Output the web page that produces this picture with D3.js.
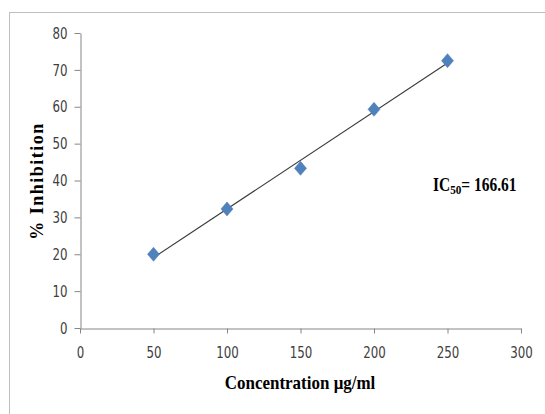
<!DOCTYPE html>
<html>
<head>
<meta charset="utf-8">
<script src="https://cdn.jsdelivr.net/npm/d3@7"></script>
<style>
  html, body { margin: 0; padding: 0; background: #fff; }
  svg { display: block; }
</style>
</head>
<body>
<svg id="chart" width="545" height="414"></svg>
<script>
// ---- data ----
const concentrations = [50, 100, 150, 200, 250];
const inhibition = [20.0, 32.3, 43.3, 59.3, 72.5];
const xTicks = [0, 50, 100, 150, 200, 250, 300];
const yTicks = [0, 10, 20, 30, 40, 50, 60, 70, 80];
const xLabel = "Concentration μg/ml";
const yLabel = "% Inhibition";
const icLabel = { pre: "IC", sub: "50", post: "= 166.61" };

(function () {
// ---- setup ----
const svg = d3.select("#chart");
const pLeft = 80, pRight = 521, pTop = 33, pBottom = 328;

// outer border (chart area frame)
svg.append("rect")
  .attr("x", 9.5).attr("y", 12.5)
  .attr("width", 560).attr("height", 420)
  .attr("fill", "#fff")
  .attr("stroke", "#bfbfbf").attr("stroke-width", 1);

const x = d3.scaleLinear().domain([0, 300]).range([pLeft, pRight]);
const y = d3.scaleLinear().domain([0, 80]).range([pBottom, pTop]);

const tickFont = "'Liberation Sans Narrow', 'DejaVu Sans Condensed', 'Arial Narrow', sans-serif";

// x axis
const gx = svg.append("g")
  .attr("transform", `translate(0,${pBottom + 0.5})`)
  .call(d3.axisBottom(x).tickValues(xTicks).tickSize(5).tickPadding(13).tickSizeOuter(0));
// y axis
const gy = svg.append("g")
  .attr("transform", `translate(${pLeft + 0.5},0)`)
  .call(d3.axisLeft(y).tickValues(yTicks).tickSize(6).tickPadding(7).tickSizeOuter(0));

[gx, gy].forEach(g => {
  g.select(".domain").attr("stroke", "#868686");
  g.selectAll(".tick line").attr("stroke", "#868686");
  g.selectAll(".tick text")
    .attr("fill", "#404040")
    .style("font-family", tickFont)
    .style("font-size", "16px")
    .attr("textLength", function () { return this.textContent.length * 7.5; })
    .attr("lengthAdjust", "spacingAndGlyphs");
});

// trend line (least squares fit)
const n = concentrations.length;
const mx = d3.mean(concentrations), my = d3.mean(inhibition);
let sxy = 0, sxx = 0;
for (let i = 0; i < n; i++) {
  sxy += (concentrations[i] - mx) * (inhibition[i] - my);
  sxx += (concentrations[i] - mx) ** 2;
}
const slope = sxy / sxx, intercept = my - slope * mx;
const x0 = d3.min(concentrations), x1 = d3.max(concentrations);
svg.append("line")
  .attr("x1", x(x0)).attr("y1", y(intercept + slope * x0))
  .attr("x2", x(x1)).attr("y2", y(intercept + slope * x1))
  .attr("stroke", "#3a3a3a").attr("stroke-width", 1.1);

// diamond markers
const hw = 6, hh = 7;
const diamond = `M0,${-hh}L${hw},0L0,${hh}L${-hw},0Z`;
svg.append("g").selectAll("path")
  .data(concentrations.map((c, i) => [c, inhibition[i]]))
  .join("path")
  .attr("transform", d => `translate(${x(d[0])},${y(d[1])})`)
  .attr("d", diamond)
  .attr("fill", "#4F81BD")
  .attr("stroke", "#4a7ab5").attr("stroke-width", 0.5);

// axis titles
const serif = "'Liberation Serif', 'Times New Roman', serif";
svg.append("text")
  .attr("transform", "translate(300,389) scale(1,1.15)")
  .attr("text-anchor", "middle")
  .style("font-family", serif).style("font-weight", "bold").style("font-size", "17px")
  .attr("fill", "#000")
  .text(xLabel);

svg.append("text")
  .attr("transform", "translate(43,181) rotate(-90)")
  .attr("text-anchor", "middle")
  .style("font-family", serif).style("font-weight", "bold").style("font-size", "18px")
  .style("letter-spacing", "1.5px")
  .attr("fill", "#000")
  .text(yLabel);

// IC50 annotation
const ic = svg.append("text")
  .attr("transform", "translate(433,191) scale(0.86,1)")
  .style("font-family", serif).style("font-weight", "bold").style("font-size", "18px")
  .attr("fill", "#000");
ic.append("tspan").text(icLabel.pre);
ic.append("tspan").attr("dy", 3).style("font-size", "13px").text(icLabel.sub);
ic.append("tspan").attr("dy", -3).text(icLabel.post);
})();
</script>
</body>
</html>
